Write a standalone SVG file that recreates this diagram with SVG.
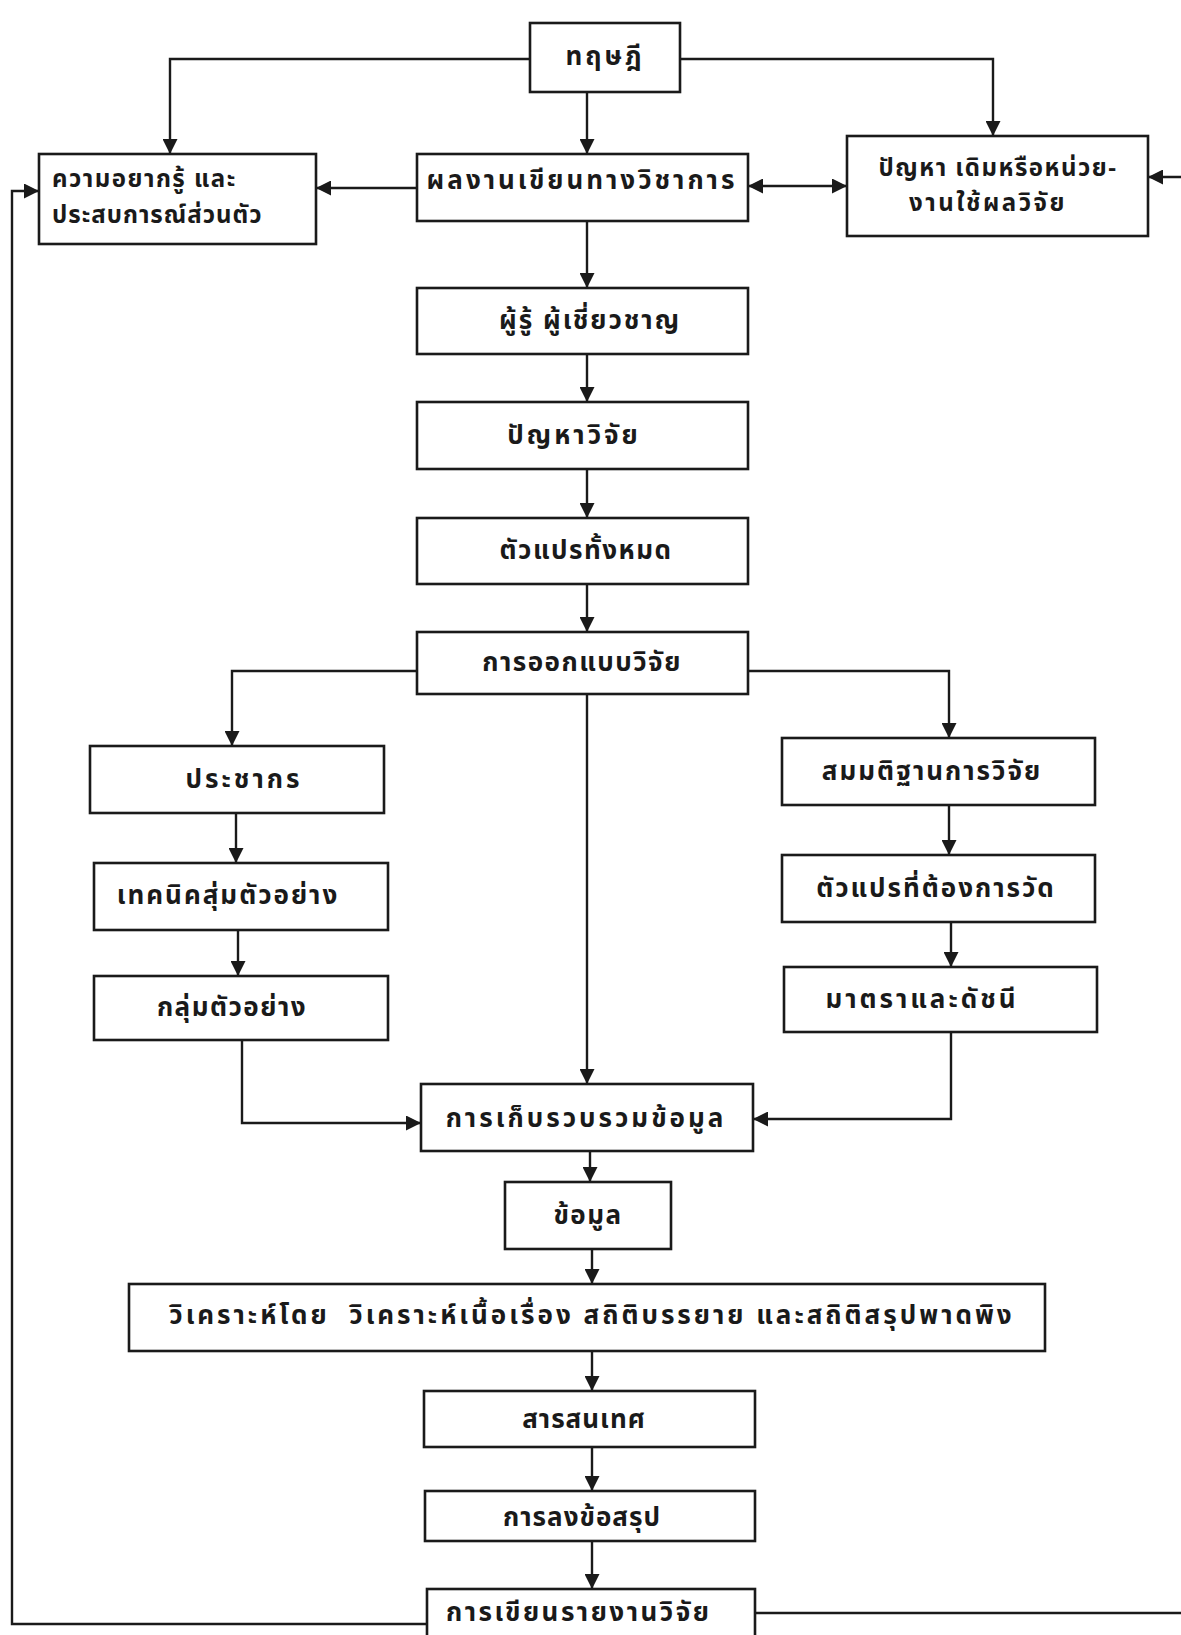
<svg xmlns="http://www.w3.org/2000/svg" width="1181" height="1635" viewBox="0 0 1181 1635">
<style>
.box{fill:#fff;stroke:#1a1a1a;stroke-width:2.6}
.t{font-family:'Noto Sans Thai','Noto Sans','DejaVu Sans',sans-serif;font-weight:bold;font-size:26px;letter-spacing:3px;fill:#1a1a1a;text-anchor:middle;dominant-baseline:central}
.s{font-size:24px;letter-spacing:1.5px}
.l{text-anchor:start}
.c{fill:none;stroke:#1a1a1a;stroke-width:2.4}
</style>
<defs>
<marker id="a" viewBox="0 0 10 10" refX="10" refY="5" markerWidth="17" markerHeight="15" markerUnits="userSpaceOnUse" orient="auto-start-reverse">
<path d="M0,0 L10,5 L0,10 z" fill="#1a1a1a"/>
</marker>
</defs>
<rect width="1181" height="1635" fill="#fff"/>
<g id="connectors">
<path class="c" d="M530,59 H170 V154" marker-end="url(#a)"/>
<path class="c" d="M680,59 H993 V136" marker-end="url(#a)"/>
<path class="c" d="M587,92 V154" marker-end="url(#a)"/>
<path class="c" d="M417,188 H316" marker-end="url(#a)"/>
<path class="c" d="M748,186 H847" marker-start="url(#a)" marker-end="url(#a)"/>
<path class="c" d="M1181,177 H1148" marker-end="url(#a)"/>
<path class="c" d="M587,221 V288" marker-end="url(#a)"/>
<path class="c" d="M587,354 V402" marker-end="url(#a)"/>
<path class="c" d="M587,469 V518" marker-end="url(#a)"/>
<path class="c" d="M587,584 V632" marker-end="url(#a)"/>
<path class="c" d="M417,671 H232 V746" marker-end="url(#a)"/>
<path class="c" d="M748,671 H949 V738" marker-end="url(#a)"/>
<path class="c" d="M587,694 V1084" marker-end="url(#a)"/>
<path class="c" d="M236,813 V863" marker-end="url(#a)"/>
<path class="c" d="M238,930 V976" marker-end="url(#a)"/>
<path class="c" d="M242,1040 V1123 H421" marker-end="url(#a)"/>
<path class="c" d="M949,805 V855" marker-end="url(#a)"/>
<path class="c" d="M951,922 V967" marker-end="url(#a)"/>
<path class="c" d="M951,1032 V1119 H753" marker-end="url(#a)"/>
<path class="c" d="M590,1151 V1182" marker-end="url(#a)"/>
<path class="c" d="M592,1249 V1284" marker-end="url(#a)"/>
<path class="c" d="M592,1351 V1391" marker-end="url(#a)"/>
<path class="c" d="M592,1447 V1491" marker-end="url(#a)"/>
<path class="c" d="M592,1541 V1589" marker-end="url(#a)"/>
<path class="c" d="M427,1624 H12 V191 H39" marker-end="url(#a)"/>
<path class="c" d="M755,1613 H1181"/>
</g>
<g id="n-theory"><rect class="box" x="530" y="23" width="150" height="69"/><text class="t" x="605" y="57">ทฤษฎี</text></g>
<g id="n-curiosity"><rect class="box" x="39" y="154" width="277" height="90"/><text class="t s l" x="52" y="180">ความอยากรู้ และ</text><text class="t s l" x="52" y="216" style="letter-spacing:1px">ประสบการณ์ส่วนตัว</text></g>
<g id="n-academic"><rect class="box" x="417" y="154" width="331" height="67"/><text class="t" x="582" y="181">ผลงานเขียนทางวิชาการ</text></g>
<g id="n-problem"><rect class="box" x="847" y="136" width="301" height="100"/><text class="t s" x="998" y="169">ปัญหา เดิมหรือหน่วย-</text><text class="t s" x="988" y="204" style="letter-spacing:2.5px">งานใช้ผลวิจัย</text></g>
<g id="n-experts"><rect class="box" x="417" y="288" width="331" height="66"/><text class="t" x="590" y="321" style="letter-spacing:2px">ผู้รู้ ผู้เชี่ยวชาญ</text></g>
<g id="n-research-problem"><rect class="box" x="417" y="402" width="331" height="67"/><text class="t" x="574" y="436">ปัญหาวิจัย</text></g>
<g id="n-all-vars"><rect class="box" x="417" y="518" width="331" height="66"/><text class="t" x="586" y="551" style="letter-spacing:1.5px">ตัวแปรทั้งหมด</text></g>
<g id="n-design"><rect class="box" x="417" y="632" width="331" height="62"/><text class="t" x="582" y="663" style="letter-spacing:1.5px">การออกแบบวิจัย</text></g>
<g id="n-population"><rect class="box" x="90" y="746" width="294" height="67"/><text class="t" x="244" y="780">ประชากร</text></g>
<g id="n-sampling"><rect class="box" x="94" y="863" width="294" height="67"/><text class="t" x="228" y="896" style="letter-spacing:2px">เทคนิคสุ่มตัวอย่าง</text></g>
<g id="n-sample"><rect class="box" x="94" y="976" width="294" height="64"/><text class="t" x="232" y="1008" style="letter-spacing:1.5px">กลุ่มตัวอย่าง</text></g>
<g id="n-hypothesis"><rect class="box" x="782" y="738" width="313" height="67"/><text class="t" x="932" y="772" style="letter-spacing:2px">สมมติฐานการวิจัย</text></g>
<g id="n-measure-vars"><rect class="box" x="782" y="855" width="313" height="67"/><text class="t" x="936" y="889" style="letter-spacing:2px">ตัวแปรที่ต้องการวัด</text></g>
<g id="n-scales"><rect class="box" x="784" y="967" width="313" height="65"/><text class="t" x="922" y="1000">มาตราและดัชนี</text></g>
<g id="n-collect"><rect class="box" x="421" y="1084" width="332" height="67"/><text class="t" x="586" y="1119">การเก็บรวบรวมข้อมูล</text></g>
<g id="n-data"><rect class="box" x="505" y="1182" width="166" height="67"/><text class="t" x="588" y="1216" style="letter-spacing:1.5px">ข้อมูล</text></g>
<g id="n-analysis"><rect class="box" x="129" y="1284" width="916" height="67"/><text class="t" x="592" y="1316" style="white-space:pre">วิเคราะห์โดย  วิเคราะห์เนื้อเรื่อง สถิติบรรยาย และสถิติสรุปพาดพิง</text></g>
<g id="n-info"><rect class="box" x="424" y="1391" width="331" height="56"/><text class="t" x="584" y="1420" style="letter-spacing:1px">สารสนเทศ</text></g>
<g id="n-conclusion"><rect class="box" x="425" y="1491" width="330" height="50"/><text class="t" x="582" y="1518" style="letter-spacing:1px">การลงข้อสรุป</text></g>
<g id="n-report"><rect class="box" x="427" y="1589" width="328" height="60"/><text class="t l" x="446" y="1613" style="letter-spacing:2.5px">การเขียนรายงานวิจัย</text></g>
</svg>
